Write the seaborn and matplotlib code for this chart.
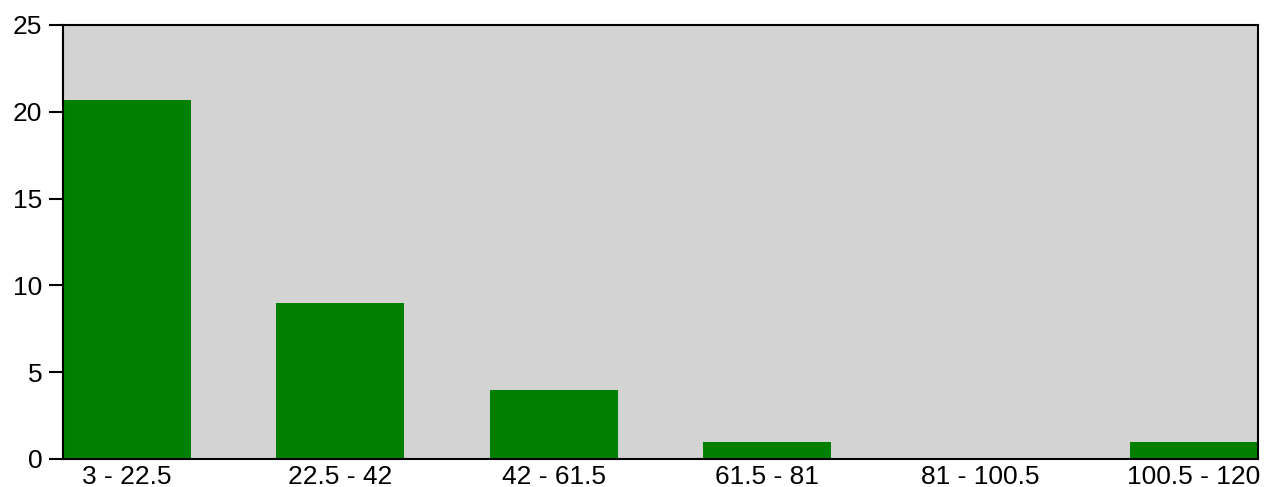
import matplotlib
matplotlib.use("Agg")
import matplotlib.pyplot as plt
import seaborn as sns
import pandas as pd

categories = ["3 - 22.5", "22.5 - 42", "42 - 61.5", "61.5 - 81", "81 - 100.5", "100.5 - 120"]
counts = [20.7, 9, 4, 1, 0, 1]
y_ticks = [0, 5, 10, 15, 20, 25]

sns.set_style("white")
plt.rcParams['font.family'] = ['Liberation Sans', 'DejaVu Sans']

df = pd.DataFrame({"range": categories, "count": counts})

fig = plt.figure(figsize=(12.65, 4.87), dpi=100)
ax = fig.add_axes([63/1265, 1-459/487, (1258-63)/1265, (459-25)/487])
sns.barplot(data=df, x="range", y="count", order=categories, color="#008000",
            saturation=1, width=0.6, ax=ax, edgecolor="none", linewidth=0)
ax.set_facecolor("#D3D3D3")
ax.set_xlim(-0.3, len(categories) - 0.7)
ax.set_ylim(0, 25)
ax.set_yticks(y_ticks)
ax.set_xlabel("")
ax.set_ylabel("")
for s in ax.spines.values():
    s.set_visible(True)
    s.set_color("black")
    s.set_linewidth(1.5)
ax.tick_params(axis="y", left=True, length=10, width=1.5, labelsize=19, color="black", pad=5)
ax.tick_params(axis="x", bottom=False, labelsize=19, pad=0.5)
for lbl in ax.get_xticklabels() + ax.get_yticklabels():
    lbl.set_color("black")
fig.savefig("out.png", dpi=100, facecolor="white")
